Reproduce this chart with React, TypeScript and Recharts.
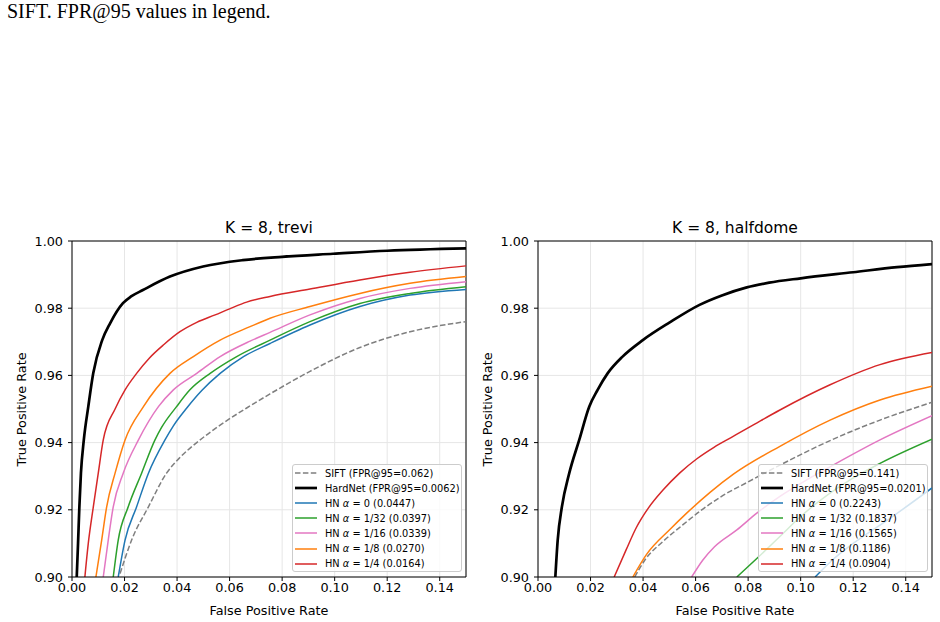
import React from "react";
import { LineChart, Line, XAxis, YAxis, CartesianGrid, ReferenceLine } from "recharts";

type Pt = [number, number];

const font = "'DejaVu Sans', sans-serif";

const xTicks = [0, 0.02, 0.04, 0.06, 0.08, 0.1, 0.12, 0.14];
const yTicks = [0.9, 0.92, 0.94, 0.96, 0.98, 1.0];

// K = 8, trevi  — [fpr, tpr] pairs
const treviSift: Pt[] = [
  [0.0183, 0.901], [0.0227, 0.911], [0.0291, 0.9209], [0.036, 0.9309], [0.041, 0.9355],
  [0.0475, 0.94], [0.0564, 0.9452], [0.0665, 0.9503], [0.0754, 0.9545], [0.0906, 0.9612],
  [0.1096, 0.9683], [0.1287, 0.973], [0.15, 0.976],
];
const treviHardNet: Pt[] = [
  [0.0018, 0.9], [0.0023, 0.91], [0.0028, 0.9208], [0.0034, 0.9309], [0.0045, 0.9408],
  [0.0062, 0.9507], [0.0081, 0.9607], [0.0115, 0.9705], [0.0145, 0.9755], [0.0194, 0.9815],
  [0.0225, 0.9835], [0.027, 0.9854], [0.0373, 0.9894], [0.0499, 0.9924], [0.065, 0.9943],
  [0.08, 0.9953], [0.0994, 0.9962], [0.12, 0.9971], [0.15, 0.9978],
];
const treviA0: Pt[] = [
  [0.0176, 0.9], [0.0202, 0.911], [0.0246, 0.9209], [0.0291, 0.9309], [0.0354, 0.9408],
  [0.0386, 0.945], [0.0437, 0.9503], [0.0494, 0.9555], [0.0564, 0.9606], [0.0653, 0.9656],
  [0.0754, 0.9695], [0.0906, 0.975], [0.1096, 0.9805], [0.1287, 0.9839], [0.15, 0.9856],
];
const treviA32: Pt[] = [
  [0.0157, 0.9], [0.0176, 0.911], [0.0214, 0.9209], [0.0265, 0.9309], [0.0316, 0.9408],
  [0.0341, 0.9445], [0.0398, 0.9507], [0.0449, 0.9557], [0.0526, 0.9606], [0.0627, 0.9656],
  [0.0754, 0.9705], [0.0906, 0.976], [0.1096, 0.9814], [0.1287, 0.9844], [0.15, 0.9864],
];
const treviA16: Pt[] = [
  [0.0119, 0.9], [0.0138, 0.911], [0.0157, 0.9209], [0.0195, 0.9309], [0.0253, 0.9408],
  [0.0329, 0.9507], [0.0386, 0.9557], [0.0475, 0.9606], [0.0564, 0.9656], [0.0678, 0.9702],
  [0.0754, 0.9728], [0.0906, 0.978], [0.1096, 0.9829], [0.1287, 0.9859], [0.15, 0.9879],
];
const treviA8: Pt[] = [
  [0.0091, 0.9], [0.0113, 0.911], [0.0132, 0.9209], [0.0164, 0.9309], [0.0202, 0.9408],
  [0.0272, 0.9507], [0.0373, 0.9606], [0.0462, 0.9656], [0.0564, 0.9705], [0.0678, 0.9745],
  [0.0754, 0.977], [0.0906, 0.9805], [0.1096, 0.9844], [0.1287, 0.9874], [0.15, 0.9894],
];
const treviA4: Pt[] = [
  [0.0049, 0.9], [0.0062, 0.91], [0.0081, 0.9208], [0.01, 0.9309], [0.0119, 0.9408],
  [0.0164, 0.95], [0.0202, 0.9557], [0.0246, 0.9606], [0.0295, 0.9652], [0.035, 0.9692],
  [0.0411, 0.973], [0.0475, 0.9758], [0.0545, 0.978], [0.06, 0.9798], [0.0665, 0.9818],
  [0.0754, 0.9835], [0.0906, 0.9857], [0.1096, 0.9884], [0.1287, 0.9907], [0.15, 0.9926],
];

// K = 8, halfdome
const halfSift: Pt[] = [
  [0.0368, 0.9], [0.0411, 0.9055], [0.0475, 0.9105], [0.0551, 0.9155], [0.0629, 0.9203],
  [0.0703, 0.9242], [0.0795, 0.9281], [0.0921, 0.9333], [0.1112, 0.9406], [0.1302, 0.9467],
  [0.15, 0.952],
];
const halfHardNet: Pt[] = [
  [0.0066, 0.9], [0.0075, 0.911], [0.0091, 0.9209], [0.0119, 0.9309], [0.0157, 0.9408],
  [0.0195, 0.9507], [0.0227, 0.9557], [0.0265, 0.9606], [0.0322, 0.9656], [0.0399, 0.9705],
  [0.05, 0.9757], [0.0615, 0.981], [0.07, 0.9838], [0.0795, 0.9862], [0.088, 0.9876],
  [0.1, 0.9889], [0.12, 0.9907], [0.1367, 0.9922], [0.15, 0.9931],
];
const halfA0: Pt[] = [
  [0.1055, 0.9], [0.112, 0.905], [0.12, 0.91], [0.135, 0.918], [0.15, 0.9265],
];
const halfA32: Pt[] = [
  [0.0757, 0.9], [0.0833, 0.9055], [0.092, 0.912], [0.1, 0.918], [0.1188, 0.9289],
  [0.1302, 0.9338], [0.15, 0.941],
];
const halfA16: Pt[] = [
  [0.0585, 0.9], [0.0627, 0.905], [0.0672, 0.909], [0.0757, 0.914], [0.0833, 0.919],
  [0.0921, 0.924], [0.1023, 0.9289], [0.1112, 0.9328], [0.1302, 0.9408], [0.15, 0.948],
];
const halfA8: Pt[] = [
  [0.0361, 0.9], [0.0414, 0.9068], [0.0503, 0.9142], [0.0566, 0.919], [0.0655, 0.9252],
  [0.0744, 0.9306], [0.0921, 0.9389], [0.1112, 0.9467], [0.1302, 0.9527], [0.15, 0.9568],
];
const halfA4: Pt[] = [
  [0.029, 0.9], [0.0335, 0.908], [0.0375, 0.9148], [0.042, 0.9205], [0.0475, 0.9258],
  [0.054, 0.931], [0.0605, 0.9352], [0.067, 0.9386], [0.0735, 0.9415], [0.0825, 0.9455],
  [0.0921, 0.9497], [0.1112, 0.9572], [0.1302, 0.9632], [0.15, 0.9668],
];

const treviFpr95 = ["0.062", "0.0062", "0.0447", "0.0397", "0.0339", "0.0270", "0.0164"];
const halfFpr95 = ["0.141", "0.0201", "0.2243", "0.1837", "0.1565", "0.1186", "0.0904"];
const alphaLabels = ["0", "1/32", "1/16", "1/8", "1/4"];

const colors = ["#7f7f7f", "#000000", "#1f77b4", "#2ca02c", "#e377c2", "#ff7f0e", "#d62728"];

type Series = { pts: Pt[]; color: string; width: number; dash?: string };

function makeSeries(list: Pt[][]): Series[] {
  return list.map((pts, i) => ({
    pts,
    color: colors[i],
    width: i === 1 ? 2.7 : 1.5,
    dash: i === 0 ? "5.5 2.4" : undefined,
  }));
}

function LegendBox({ left, values }: { left: number; values: string[] }) {
  return (
    <div
      style={{
        position: "absolute",
        left,
        top: 464,
        width: 170,
        height: 108,
        boxSizing: "border-box",
        border: "1px solid #cccccc",
        borderRadius: 3,
        background: "rgba(255,255,255,0.8)",
        fontFamily: font,
        fontSize: 9.8,
        color: "#000",
        paddingTop: 0.5,
      }}
    >
      {values.map((v, i) => (
        <div key={i} style={{ height: 15.1, display: "flex", alignItems: "center", whiteSpace: "nowrap" }}>
          <svg width={24} height={8} style={{ marginLeft: 2, marginRight: 6 }}>
            <line
              x1={0}
              x2={22}
              y1={4}
              y2={4}
              stroke={colors[i]}
              strokeWidth={i === 1 ? 2.7 : 1.5}
              strokeDasharray={i === 0 ? "5.5 2.4" : undefined}
            />
          </svg>
          {i === 0 && <span>SIFT (FPR@95={v})</span>}
          {i === 1 && <span>HardNet (FPR@95={v})</span>}
          {i > 1 && (
            <span>
              HN <i>α</i> = {alphaLabels[i - 2]} ({v})
            </span>
          )}
        </div>
      ))}
    </div>
  );
}

function Panel({
  left,
  marginLeft,
  marginRight,
  title,
  series,
  legend,
}: {
  left: number;
  marginLeft: number;
  marginRight: number;
  title: string;
  series: Series[];
  legend: string[];
}) {
  const plotLeft = left + marginLeft + 60;
  const plotRight = left + 470 - marginRight;
  const cx = (plotLeft + plotRight) / 2;
  return (
    <>
      <div style={{ position: "absolute", left, top: 200 }}>
        <LineChart width={470} height={422} margin={{ top: 41, right: marginRight, bottom: 0, left: marginLeft }}>
          <CartesianGrid stroke="#e6e6e6" strokeWidth={1} />
          <XAxis
            type="number"
            dataKey="fpr"
            domain={[0, 0.15]}
            ticks={xTicks}
            allowDataOverflow
            height={45}
            tickFormatter={(v: number) => v.toFixed(2)}
            tick={{ fill: "#000", fontSize: 12.8, fontFamily: font }}
            tickSize={4}
            tickMargin={2}
            axisLine={{ stroke: "#000" }}
            tickLine={{ stroke: "#000" }}
          />
          <YAxis
            type="number"
            domain={[0.9, 1.0]}
            ticks={yTicks}
            allowDataOverflow
            width={60}
            tickFormatter={(v: number) => v.toFixed(2)}
            tick={{ fill: "#000", fontSize: 12.8, fontFamily: font }}
            tickSize={4}
            tickMargin={5}
            axisLine={{ stroke: "#000" }}
            tickLine={{ stroke: "#000" }}
          />
          <ReferenceLine y={1.0} stroke="#000" />
          <ReferenceLine x={0.15} stroke="#000" />
          {series.map((s, i) => (
            <Line
              key={i}
              data={s.pts.map(([fpr, tpr]) => ({ fpr, tpr }))}
              dataKey="tpr"
              type="monotone"
              stroke={s.color}
              strokeWidth={s.width}
              strokeDasharray={s.dash}
              dot={false}
              activeDot={false}
              isAnimationActive={false}
            />
          ))}
        </LineChart>
      </div>
      <div
        style={{
          position: "absolute",
          left: cx - 150,
          width: 300,
          top: 220.9,
          textAlign: "center",
          fontFamily: font,
          fontSize: 15.5,
          lineHeight: "15.5px",
          whiteSpace: "nowrap",
        }}
      >
        {title}
      </div>
      <div
        style={{
          position: "absolute",
          left: cx - 150,
          width: 300,
          top: 604.7,
          textAlign: "center",
          fontFamily: font,
          fontSize: 12.8,
          lineHeight: "12.8px",
        }}
      >
        False Positive Rate
      </div>
      <div
        style={{
          position: "absolute",
          left: plotLeft - 50.5 - 100,
          width: 200,
          top: 409 - 6.4,
          textAlign: "center",
          fontFamily: font,
          fontSize: 12.8,
          lineHeight: "12.8px",
          transform: "rotate(-90deg)",
        }}
      >
        True Positive Rate
      </div>
      <LegendBox left={plotRight - 174} values={legend} />
    </>
  );
}

export default function App() {
  const trevi = makeSeries([treviSift, treviHardNet, treviA0, treviA32, treviA16, treviA8, treviA4]);
  const half = makeSeries([halfSift, halfHardNet, halfA0, halfA32, halfA16, halfA8, halfA4]);
  return (
    <div style={{ position: "absolute", left: 0, top: 0, width: 940, height: 622, background: "#fff" }}>
      <div
        style={{
          position: "absolute",
          left: 7,
          top: 1,
          fontFamily: "'Liberation Serif', 'Times New Roman', serif",
          fontSize: 20,
          lineHeight: "20px",
          whiteSpace: "nowrap",
        }}
      >
        SIFT. FPR@95 values in legend.
      </div>
      <Panel left={0} marginLeft={12} marginRight={4} title="K = 8, trevi" series={trevi} legend={treviFpr95} />
      <Panel left={470} marginLeft={8} marginRight={8} title="K = 8, halfdome" series={half} legend={halfFpr95} />
    </div>
  );
}
